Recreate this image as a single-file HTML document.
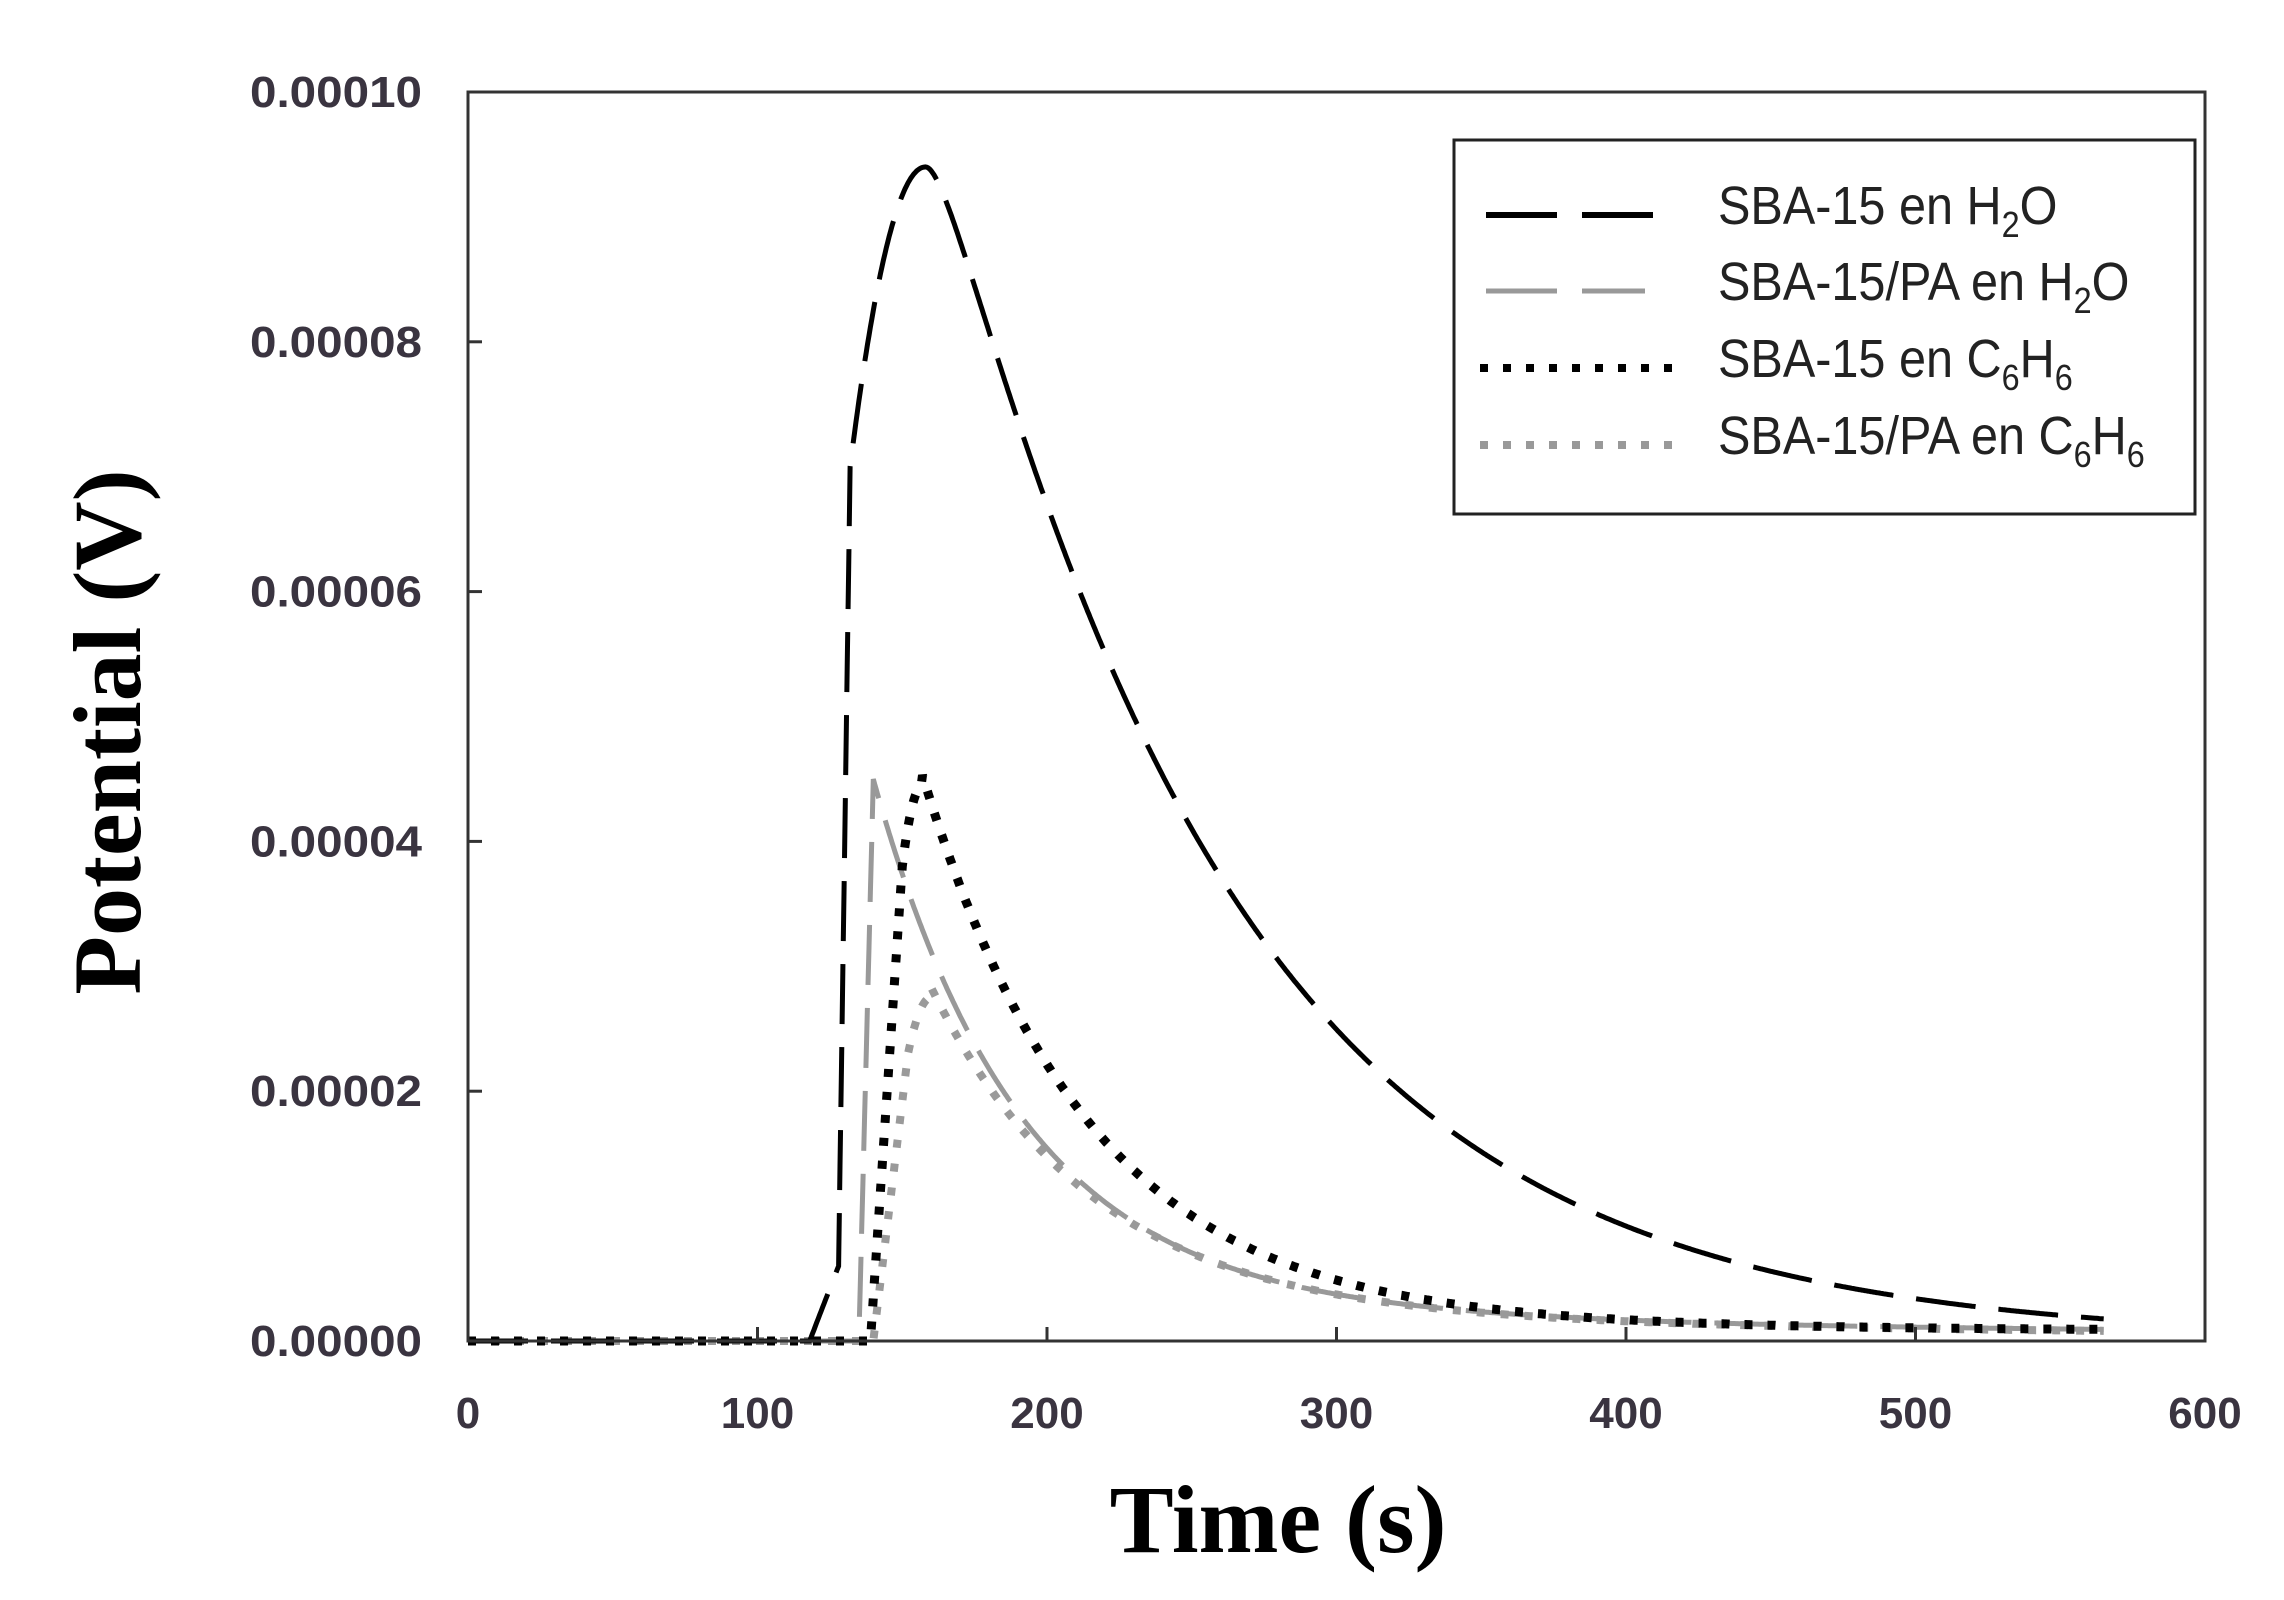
<!DOCTYPE html>
<html><head><meta charset="utf-8"><style>
html,body{margin:0;padding:0;background:#fff;}
svg{display:block}
</style></head><body>
<svg id="s" width="2284" height="1600" xmlns="http://www.w3.org/2000/svg">
<rect width="2284" height="1600" fill="#fff"/>
<g id="curves"></g>
<rect x="468" y="92" width="1737" height="1249" fill="none" stroke="#333" stroke-width="3"/>
<g id="ticks" stroke="#333" stroke-width="3"></g>
<g font-family="Liberation Sans, sans-serif" font-size="44" fill="#3a3440" font-weight="bold" id="yl" text-anchor="end"></g>
<g font-family="Liberation Sans, sans-serif" font-size="44" fill="#3a3440" font-weight="bold" id="xl" text-anchor="middle"></g>
<text x="1278" y="1552" text-anchor="middle" font-family="Liberation Serif, serif" font-weight="bold" font-size="96">Time (s)</text>
<text transform="translate(140,732) rotate(-90)" text-anchor="middle" font-family="Liberation Serif, serif" font-weight="bold" font-size="96">Potential (V)</text>
<rect x="1454" y="140" width="741" height="374" fill="#fff" stroke="#222" stroke-width="3"/>
<line x1="1486" y1="215" x2="1669" y2="215" stroke="#000" stroke-width="6" stroke-dasharray="71,25"/>
<line x1="1486" y1="291" x2="1645" y2="291" stroke="#999" stroke-width="5" stroke-dasharray="71,25"/>
<line x1="1480" y1="368" x2="1680" y2="368" stroke="#000" stroke-width="8" stroke-dasharray="8,15"/>
<line x1="1480" y1="445" x2="1680" y2="445" stroke="#999" stroke-width="8" stroke-dasharray="8,15"/>
<g font-family="Liberation Sans, sans-serif" font-size="54" fill="#222" transform="translate(1718,0) scale(0.9,1)">
<text x="0" y="224">SBA-15 en H<tspan font-size="36" dy="13">2</tspan><tspan dy="-13">O</tspan></text>
<text x="0" y="300">SBA-15/PA en H<tspan font-size="36" dy="13">2</tspan><tspan dy="-13">O</tspan></text>
<text x="0" y="377">SBA-15 en C<tspan font-size="36" dy="13">6</tspan><tspan dy="-13">H</tspan><tspan font-size="36" dy="13">6</tspan></text>
<text x="0" y="454">SBA-15/PA en C<tspan font-size="36" dy="13">6</tspan><tspan dy="-13">H</tspan><tspan font-size="36" dy="13">6</tspan></text>
</g>
</svg>
<script>
var X=t=>468+t*1737/600, Y=v=>1341-v*1249/1e-4;
var ns="http://www.w3.org/2000/svg";
function el(p,n,a){var e=document.createElementNS(ns,n);for(var k in a)e.setAttribute(k,a[k]);p.appendChild(e);return e;}
var tk=document.getElementById('ticks'),yl=document.getElementById('yl'),xl=document.getElementById('xl');
for(var i=0;i<=5;i++){var y=Y(i*2e-5);el(tk,'line',{x1:468,x2:482,y1:y,y2:y});var t=el(yl,'text',{x:422,y:y+15,textLength:172,lengthAdjust:'spacingAndGlyphs'});t.textContent=(i*2e-5).toFixed(5);}
for(var i=0;i<=6;i++){var x=X(i*100);el(tk,'line',{x1:x,x2:x,y1:1341,y2:1327});var t=el(xl,'text',{x:x,y:1428});t.textContent=i*100;}
function path(f,t0,t1){var d='';for(var t=t0;t<=t1;t+=0.5){d+=(d?'L':'M')+X(t).toFixed(1)+','+Y(f(t)).toFixed(1);}return d;}
function bump(t,a,pk,v0,w){return pk-(pk-v0)*Math.pow((a-t)/w,2);}
var s1=t=>{if(t<118)return 0;if(t<128)return 0.6e-5*(t-118)/10;if(t<132)return 0.6e-5+(t-128)/4*6.4e-5;
 if(t<158)return bump(t,158,9.4e-5,7.0e-5,26);
 var d=t-158; return 9.4e-5*Math.exp(-(d*d/(d+10))/100);};
var s2=t=>{if(t<135)return 0;if(t<140)return 4.5e-5*(t-135)/5;return 4.1e-5*Math.exp(-(t-140)/50)+0.35e-5*Math.exp(-(t-140)/200)+0.05e-5;};
var s3=t=>{if(t<139)return 0;if(t<150)return 3.8e-5*(t-139)/11;if(t<157)return bump(t,157,4.45e-5,3.8e-5,7);return 4.3e-5*Math.exp(-(t-157)/57)+0.15e-5*Math.exp(-(t-157)/150)+0.08e-5;};
var s4=t=>{if(t<140)return 0;if(t<152)return 2.3e-5*(t-140)/12;if(t<160)return bump(t,160,2.75e-5,2.3e-5,8);return 2.55e-5*Math.exp(-(t-160)/55)+0.25e-5*Math.exp(-(t-160)/250)+0.03e-5;};
var g=document.getElementById('curves');
el(g,'path',{d:path(s4,0,565),fill:'none',stroke:'#9a9a9a','stroke-width':8,'stroke-dasharray':'8,16'});
el(g,'path',{d:path(s2,0,565),fill:'none',stroke:'#999','stroke-width':5,'stroke-dasharray':'60,23'});
el(g,'path',{d:path(s3,0,565),fill:'none',stroke:'#000','stroke-width':9,'stroke-dasharray':'8,15'});
el(g,'path',{d:path(s1,0,565),fill:'none',stroke:'#000','stroke-width':5,'stroke-dasharray':'60,23'});
</script>
</body></html>
